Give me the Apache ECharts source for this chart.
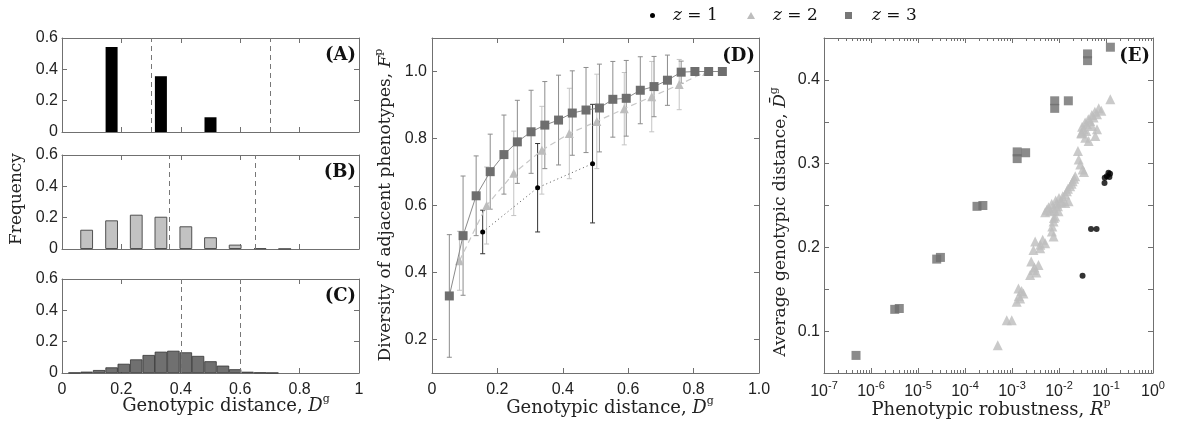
<!DOCTYPE html>
<html><head><meta charset="utf-8">
<script src="https://cdn.jsdelivr.net/npm/echarts@6.0.0/dist/echarts.min.js"></script>
<style>html,body{margin:0;padding:0;background:#fff}#c{width:1177px;height:422px}</style>
</head><body><div id="c"></div><script>
// ---------- data ----------
// Panel A (z = 1 histogram)
const aX = [0.167, 0.333, 0.5];
const aY = [0.543, 0.356, 0.094];
const aLines = [0.3, 0.7];
// Panel B (z = 2 histogram)
const bX = [0.083, 0.167, 0.25, 0.333, 0.417, 0.5, 0.583, 0.667, 0.75];
const bY = [0.123, 0.183, 0.219, 0.206, 0.145, 0.075, 0.028, 0.005, 0.001];
const bLines = [0.356, 0.646];
// Panel C (z = 3 histogram)
const cX = [0.042, 0.083, 0.125, 0.167, 0.208, 0.25, 0.292, 0.333, 0.375, 0.417, 0.458, 0.5, 0.542, 0.583, 0.625, 0.667, 0.708];
const cY = [0.002, 0.0085, 0.019, 0.036, 0.059, 0.087, 0.115, 0.136, 0.142, 0.132, 0.109, 0.075, 0.047, 0.024, 0.008, 0.003, 0.001];
const cLines = [0.4, 0.6];
// Panel D
const sqX = [0.053, 0.095, 0.135, 0.178, 0.220, 0.261, 0.303, 0.345, 0.387, 0.429, 0.471, 0.512, 0.553, 0.594, 0.637, 0.679, 0.720, 0.762, 0.804, 0.846, 0.888];
const sqY = [0.330, 0.510, 0.629, 0.701, 0.752, 0.790, 0.820, 0.840, 0.855, 0.876, 0.885, 0.891, 0.917, 0.920, 0.944, 0.955, 0.974, 0.998, 1.0, 1.0, 1.0];
const sqErr = [0.183, 0.178, 0.119, 0.112, 0.118, 0.124, 0.124, 0.130, 0.134, 0.126, 0.127, 0.131, 0.113, 0.113, 0.100, 0.090, 0.075, 0.033, 0, 0, 0];
const triX = [0.084, 0.167, 0.25, 0.336, 0.42, 0.504, 0.588, 0.672, 0.756, 0.84];
const triY = [0.435, 0.600, 0.696, 0.765, 0.815, 0.851, 0.889, 0.925, 0.961, 1.0];
const triErr = [0.088, 0.115, 0.126, 0.131, 0.135, 0.141, 0.108, 0.105, 0.075, 0];
const dotX = [0.155, 0.323, 0.491];
const dotY = [0.521, 0.653, 0.725];
const dotErr = [0.065, 0.132, 0.177];
const dYTicks = [0.2, 0.4, 0.6, 0.8, 1.0];
// Panel E
const e1X = [0.0317, 0.048, 0.063, 0.093, 0.094, 0.104, 0.113, 0.122, 0.118];
const e1Y = [0.166, 0.222, 0.222, 0.277, 0.283, 0.285, 0.289, 0.288, 0.284];
const e2X = [0.1236, 0.0794, 0.0643, 0.0546, 0.0463, 0.0394, 0.0333, 0.0298, 0.0362, 0.0427, 0.0592, 0.0643, 0.0253, 0.0283, 0.0318, 0.0222, 0.0195, 0.0173, 0.0147, 0.0136, 0.0160, 0.0136, 0.0115, 0.0090, 0.00766, 0.00650, 0.00508, 0.00977, 0.00830, 0.00766, 0.00705, 0.00766, 0.00508, 0.00398, 0.00311, 0.00286, 0.00256, 0.00366, 0.00286, 0.00243, 0.00137, 0.00175, 0.00149, 0.00126, 0.000774, 0.000989, 0.000498,
  0.0700, 0.0580, 0.0500, 0.0420, 0.0360, 0.0310, 0.0380, 0.0500, 0.0300, 0.0340, 0.0262, 0.0210, 0.0185, 0.0155, 0.0060, 0.0070, 0.0085, 0.0100, 0.0120, 0.0055, 0.0095, 0.0110, 0.0080, 0.0072, 0.0078, 0.0040, 0.0045, 0.0030, 0.0033, 0.0016, 0.0014];
const e2Y = [0.377, 0.363, 0.359, 0.355, 0.351, 0.347, 0.341, 0.337, 0.331, 0.327, 0.333, 0.341, 0.315, 0.299, 0.293, 0.285, 0.279, 0.273, 0.267, 0.263, 0.255, 0.253, 0.255, 0.252, 0.247, 0.243, 0.242, 0.243, 0.237, 0.231, 0.219, 0.213, 0.205, 0.199, 0.207, 0.197, 0.183, 0.179, 0.173, 0.167, 0.151, 0.145, 0.139, 0.135, 0.113, 0.113, 0.083,
  0.366, 0.362, 0.358, 0.353, 0.349, 0.344, 0.339, 0.345, 0.336, 0.290, 0.305, 0.282, 0.276, 0.270, 0.248, 0.252, 0.256, 0.259, 0.261, 0.245, 0.249, 0.254, 0.244, 0.225, 0.235, 0.203, 0.209, 0.176, 0.170, 0.148, 0.142];
const e3X = [4.8e-7, 3.2e-6, 4.0e-6, 2.5e-5, 3.0e-5, 1.8e-4, 2.4e-4, 1.29e-3, 1.29e-3, 1.95e-3, 8.1e-3, 8.1e-3, 1.58e-2, 4.05e-2, 4.05e-2, 0.124];
const e3Y = [0.071, 0.126, 0.127, 0.186, 0.188, 0.249, 0.250, 0.314, 0.306, 0.313, 0.375, 0.366, 0.375, 0.431, 0.423, 0.439];

// ---------- helpers ----------
const FR = '#707070';
const LBL = {fontFamily: 'Liberation Sans', fontSize: 16, color: '#222'};
const SERIF = 'DejaVu Serif';
const zip = (xs, ys) => xs.map((x, i) => [x, ys[i]]);
const errData = (xs, ys, es) => xs.map((x, i) => [x, ys[i] - es[i], ys[i] + es[i], es[i]]).filter(d => d[3] > 0);

function ax(gi, pos, extra) {
  return Object.assign({
    gridIndex: gi, type: 'value', position: pos,
    axisLine: {show: true, onZero: false, lineStyle: {color: FR, width: 1}},
    axisTick: {show: true, inside: true, length: 5, lineStyle: {color: FR}},
    axisLabel: {show: false},
    splitLine: {show: false}
  }, extra || {});
}
function errRender(color) {
  return function (params, api) {
    const x = api.value(0), lo = api.value(1), hi = api.value(2);
    const p1 = api.coord([x, lo]), p2 = api.coord([x, hi]);
    const cap = 2.5, st = {stroke: color, lineWidth: 1};
    return {type: 'group', children: [
      {type: 'line', shape: {x1: p1[0], y1: p1[1], x2: p2[0], y2: p2[1]}, style: st},
      {type: 'line', shape: {x1: p1[0] - cap, y1: p1[1], x2: p1[0] + cap, y2: p1[1]}, style: st},
      {type: 'line', shape: {x1: p2[0] - cap, y1: p2[1], x2: p2[0] + cap, y2: p2[1]}, style: st}
    ]};
  };
}
function vlines(vals) {
  return {silent: true, symbol: ['none', 'none'], label: {show: false},
    lineStyle: {type: [5, 4], color: '#777', width: 1},
    data: vals.map(v => ({xAxis: v}))};
}
const histX = {min: 0, max: 1, interval: 0.2};
const histY = {min: 0, max: 0.6, interval: 0.2};
const dX = {min: 0, max: 1, interval: 0.2};
const dY = {min: 0.1, max: 1.1};
const eX = {type: 'log', logBase: 10, min: 1e-7, max: 1, interval: 1,
  minorTick: {show: true, splitNumber: 9, length: 3, lineStyle: {color: FR}}};
const eY = {min: 0.05, max: 0.45, interval: 0.05};

function mkRich(fs) {
  return {
    n: {fontFamily: SERIF, fontSize: fs, lineHeight: 24, fill: '#222'},
    it: {fontFamily: SERIF, fontSize: fs, fontStyle: 'italic', lineHeight: 24, fill: '#222'},
    sup: {fontFamily: SERIF, fontSize: 11, verticalAlign: 'top', lineHeight: 13, fill: '#222'}
  };
}
function title(x, y, text, rot, fs) {
  return {type: 'text', x: x, y: y, rotation: rot ? Math.PI / 2 : 0, silent: true,
    style: {text: text, rich: mkRich(fs), align: 'center', verticalAlign: 'middle', fill: '#222'}};
}
function tag(x, y, text) {
  return {type: 'text', x: x, y: y, silent: true,
    style: {text: text, fontFamily: SERIF, fontSize: 18, fontWeight: 'bold', fill: '#111', align: 'right', verticalAlign: 'middle'}};
}
function leg(name, icon, color, left, w, h, pad) {
  return {data: [{name: name, icon: icon, itemStyle: {color: color}}], left: left, top: 7, padding: 0,
    itemWidth: w, itemHeight: h, selectedMode: false,
    formatter: n => '{i|z} = ' + n.slice(-1),
    textStyle: {fontFamily: SERIF, fontSize: 17, color: '#111', padding: [0, 0, 0, pad],
      rich: {i: {fontFamily: SERIF, fontSize: 17, fontStyle: 'italic', color: '#111'}}}};
}

const option = {
  animation: false,
  backgroundColor: '#fff',
  grid: [
    {left: 62, top: 38, width: 297, height: 94},
    {left: 62, top: 155, width: 297, height: 94},
    {left: 62, top: 279, width: 297, height: 94},
    {left: 432, top: 38, width: 327, height: 335},
    {left: 824, top: 38, width: 329, height: 335}
  ],
  legend: [
    leg('z = 1', 'circle', '#000', 650, 5, 5, 13),
    leg('z = 2', 'triangle', '#bdbdbd', 747, 8, 7, 13),
    leg('z = 3', 'rect', '#777', 845, 7, 7, 15)
  ],
  xAxis: [
    ax(0, 'bottom', histX), ax(0, 'top', histX),
    ax(1, 'bottom', histX), ax(1, 'top', histX),
    ax(2, 'bottom', Object.assign({axisLabel: Object.assign({show: true, margin: 9}, LBL)}, histX)), ax(2, 'top', histX),
    ax(3, 'bottom', Object.assign({axisLabel: Object.assign({show: true, margin: 9,
      formatter: v => v === 0 ? '0' : v.toFixed(1)}, LBL)}, dX)), ax(3, 'top', dX),
    ax(4, 'bottom', Object.assign({}, eX, {axisLabel: {show: true, margin: 7,
      formatter: v => '{b|10}{s|' + Math.round(Math.log10(v)) + '}',
      rich: {b: {fontFamily: 'Liberation Sans', fontSize: 16, color: '#222', lineHeight: 24},
             s: {fontFamily: 'Liberation Sans', fontSize: 11, color: '#222', verticalAlign: 'top', lineHeight: 13}}}})),
    ax(4, 'top', eX)
  ],
  yAxis: [
    ax(0, 'left', Object.assign({axisLabel: Object.assign({show: true, margin: 4}, LBL)}, histY)), ax(0, 'right', histY),
    ax(1, 'left', Object.assign({axisLabel: Object.assign({show: true, margin: 4}, LBL)}, histY)), ax(1, 'right', histY),
    ax(2, 'left', Object.assign({axisLabel: Object.assign({show: true, margin: 4}, LBL)}, histY)), ax(2, 'right', histY),
    ax(3, 'left', Object.assign({
      axisTick: {show: true, inside: true, length: 5, lineStyle: {color: FR}, customValues: dYTicks},
      axisLabel: Object.assign({show: true, margin: 5, customValues: dYTicks, formatter: v => v.toFixed(1)}, LBL)}, dY)),
    ax(3, 'right', Object.assign({
      axisTick: {show: true, inside: true, length: 5, lineStyle: {color: FR}, customValues: dYTicks}}, dY)),
    ax(4, 'left', Object.assign({axisLabel: Object.assign({show: true, margin: 4,
      formatter: v => { const t = Math.round(v * 100); return t % 10 === 0 ? (t / 100).toFixed(1) : ''; }}, LBL)}, eY)),
    ax(4, 'right', eY)
  ],
  series: [
    {type: 'bar', name: 'A', xAxisIndex: 0, yAxisIndex: 0, data: zip(aX, aY), barWidth: 12,
      itemStyle: {color: '#000'}, markLine: vlines(aLines)},
    {type: 'bar', name: 'B', xAxisIndex: 2, yAxisIndex: 2, data: zip(bX, bY), barWidth: 12.8,
      itemStyle: {color: '#c2c2c2', borderColor: '#505050', borderWidth: 1}, markLine: vlines(bLines)},
    {type: 'bar', name: 'C', xAxisIndex: 4, yAxisIndex: 4, data: zip(cX, cY), barWidth: 12.4,
      itemStyle: {color: '#707070', borderColor: '#333', borderWidth: 0.8}, markLine: vlines(cLines)},
    // Panel D error bars
    {type: 'custom', name: 'err2', xAxisIndex: 6, yAxisIndex: 6, data: errData(triX, triY, triErr),
      encode: {x: 0, y: [1, 2]}, renderItem: errRender('#c4c4c4'), z: 1, silent: true},
    {type: 'custom', name: 'err3', xAxisIndex: 6, yAxisIndex: 6, data: errData(sqX, sqY, sqErr),
      encode: {x: 0, y: [1, 2]}, renderItem: errRender('#8c8c8c'), z: 1, silent: true},
    {type: 'custom', name: 'err1', xAxisIndex: 6, yAxisIndex: 6, data: errData(dotX, dotY, dotErr),
      encode: {x: 0, y: [1, 2]}, renderItem: errRender('#333'), z: 1, silent: true},
    // Panel D means
    {type: 'line', name: 'z = 2', xAxisIndex: 6, yAxisIndex: 6, data: zip(triX, triY), z: 2,
      symbol: 'triangle', symbolSize: 9, itemStyle: {color: '#bdbdbd'},
      lineStyle: {color: '#c8c8c8', width: 1.2, type: [6, 4]}},
    {type: 'line', name: 'z = 3', xAxisIndex: 6, yAxisIndex: 6, data: zip(sqX, sqY), z: 3,
      symbol: 'rect', symbolSize: 9, itemStyle: {color: '#6e6e6e'},
      lineStyle: {color: '#8a8a8a', width: 1}},
    {type: 'line', name: 'z = 1', xAxisIndex: 6, yAxisIndex: 6, data: zip(dotX, dotY), z: 4,
      symbol: 'circle', symbolSize: 5, itemStyle: {color: '#000'},
      lineStyle: {color: '#555', width: 1, type: [1, 3]}},
    // Panel E
    {type: 'scatter', name: 'z = 2', xAxisIndex: 8, yAxisIndex: 8, data: zip(e2X, e2Y),
      symbol: 'triangle', symbolSize: 10, itemStyle: {color: '#bdbdbd'}},
    {type: 'scatter', name: 'z = 3', xAxisIndex: 8, yAxisIndex: 8, data: zip(e3X, e3Y),
      symbol: 'rect', symbolSize: 9, itemStyle: {color: '#6e6e6e'}},
    {type: 'scatter', name: 'z = 1', xAxisIndex: 8, yAxisIndex: 8, data: zip(e1X, e1Y),
      symbol: 'circle', symbolSize: 6, itemStyle: {color: '#000'}}
  ],
  graphic: [
    title(226, 406, '{n|Genotypic distance, }{it|D}{sup|g}', false, 18),
    title(17, 199, '{n|Frequency}', true, 17),
    title(610, 408, '{n|Genotypic distance, }{it|D}{sup|g}', false, 18),
    title(386, 205, '{n|Diversity of adjacent phenotypes, }{it|F}{sup|p}', true, 17),
    title(991, 410, '{n|Phenotypic robustness, }{it|R}{sup|p}', false, 18),
    title(781, 222, '{n|Average genotypic distance, }{it|D\u0304}{sup|g}', true, 17),
    tag(356, 55, '(A)'), tag(356, 172, '(B)'), tag(356, 296, '(C)'),
    tag(755, 56, '(D)'), tag(1150, 56, '(E)')
  ]
};
const chart = echarts.init(document.getElementById('c'), null, {renderer: 'canvas'});
chart.setOption(option);
</script></body></html>
